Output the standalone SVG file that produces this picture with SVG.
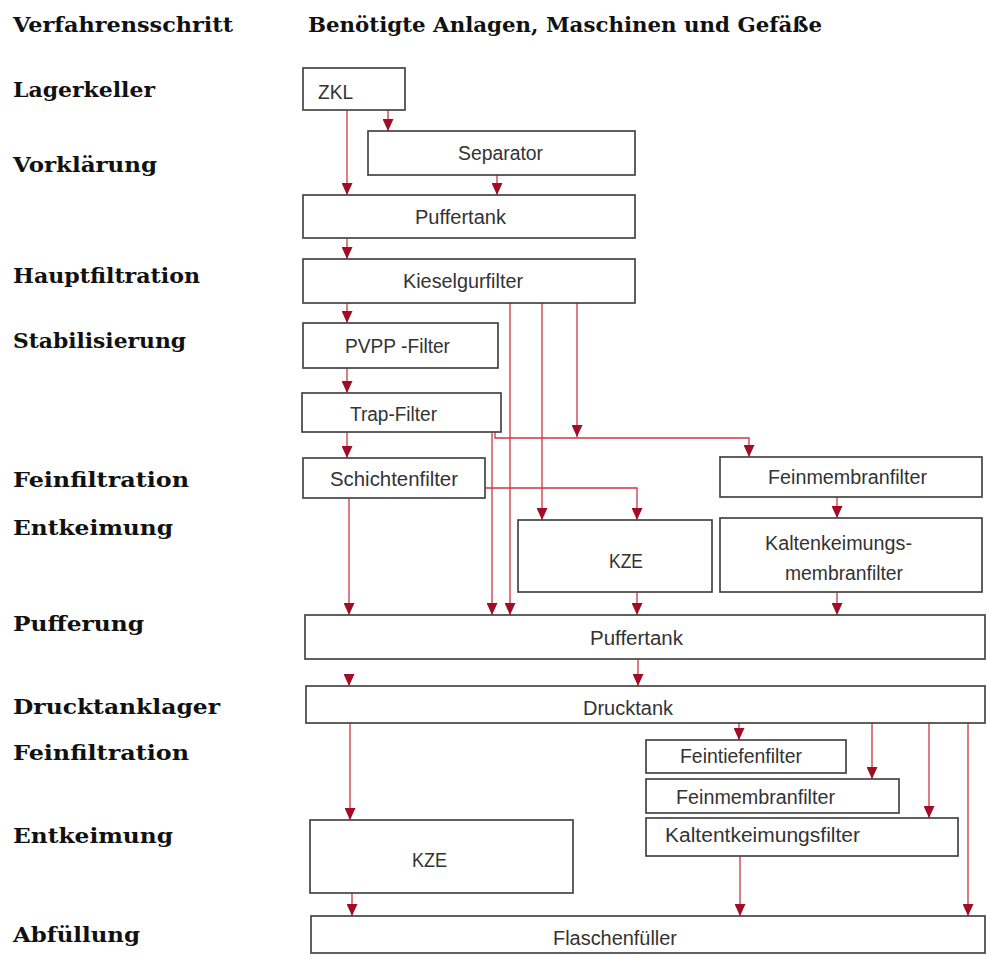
<svg xmlns="http://www.w3.org/2000/svg" width="987" height="956" viewBox="0 0 987 956">
  <style>
    .bg { fill: #ffffff; }
    .box { fill: #ffffff; stroke: #454545; stroke-width: 1.7; }
    .lbl { font-family: "Liberation Sans", Arial, sans-serif; font-size: 19.5px; fill: #333333; }
    .step { font-family: "DejaVu Serif", "Liberation Serif", serif; font-weight: bold; font-size: 20px; fill: #111111; }
    .flow { fill: none; stroke: #cf3444; stroke-width: 1.3; marker-end: url(#arrow); }
  </style>
  <defs>
    <marker id="arrow" viewBox="0 0 12 11" refX="12" refY="5.5" markerWidth="12" markerHeight="11" markerUnits="userSpaceOnUse" orient="auto">
      <path d="M0,0 L12,5.5 L0,11 z" fill="#a00d25"/>
    </marker>
  </defs>
  <rect class="bg" x="0" y="0" width="987" height="956"/>

  <!-- column headings -->
  <g id="headings">
    <text class="step" x="13" y="32" textLength="220" lengthAdjust="spacingAndGlyphs">Verfahrensschritt</text>
    <text class="step" x="308" y="32" textLength="514" lengthAdjust="spacingAndGlyphs">Benötigte Anlagen, Maschinen und Gefäße</text>
  </g>

  <!-- process steps (left column) -->
  <g id="steps">
    <text class="step" x="13" y="97" textLength="142" lengthAdjust="spacingAndGlyphs">Lagerkeller</text>
    <text class="step" x="13" y="172" textLength="144" lengthAdjust="spacingAndGlyphs">Vorklärung</text>
    <text class="step" x="13" y="283" textLength="187" lengthAdjust="spacingAndGlyphs">Hauptfiltration</text>
    <text class="step" x="13" y="348" textLength="173" lengthAdjust="spacingAndGlyphs">Stabilisierung</text>
    <text class="step" x="13" y="487" textLength="176" lengthAdjust="spacingAndGlyphs">Feinfiltration</text>
    <text class="step" x="13" y="535" textLength="160" lengthAdjust="spacingAndGlyphs">Entkeimung</text>
    <text class="step" x="13" y="631" textLength="131" lengthAdjust="spacingAndGlyphs">Pufferung</text>
    <text class="step" x="13" y="714" textLength="207" lengthAdjust="spacingAndGlyphs">Drucktanklager</text>
    <text class="step" x="13" y="760" textLength="176" lengthAdjust="spacingAndGlyphs">Feinfiltration</text>
    <text class="step" x="13" y="843" textLength="160" lengthAdjust="spacingAndGlyphs">Entkeimung</text>
    <text class="step" x="13" y="942" textLength="127" lengthAdjust="spacingAndGlyphs">Abfüllung</text>
  </g>

  <!-- connectors -->
  <g id="connectors">
    <path class="flow" d="M347,110 V195"/>
    <path class="flow" d="M388,110 V131"/>
    <path class="flow" d="M497,175 V195"/>
    <path class="flow" d="M347,238 V259"/>
    <path class="flow" d="M347,303 V323"/>
    <path class="flow" d="M347,368 V393"/>
    <path class="flow" d="M347,432 V458"/>
    <path class="flow" d="M349,498 V615"/>
    <path class="flow" d="M492,432 V615"/>
    <path class="flow" d="M510,303 V615"/>
    <path class="flow" d="M542,303 V520"/>
    <path class="flow" d="M577,303 V437"/>
    <path class="flow" d="M495,432 V438 H749 V457"/>
    <path class="flow" d="M485,488 H637 V520"/>
    <path class="flow" d="M837,497 V518"/>
    <path class="flow" d="M637,592 V615"/>
    <path class="flow" d="M837,592 V615"/>
    <path class="flow" d="M638,659 V686"/>
    <path class="flow" d="M349,675 V686"/>
    <path class="flow" d="M350,723 V820"/>
    <path class="flow" d="M352,893 V916"/>
    <path class="flow" d="M739,723 V740"/>
    <path class="flow" d="M872,723 V779"/>
    <path class="flow" d="M929,723 V818"/>
    <path class="flow" d="M968,723 V916"/>
    <path class="flow" d="M740,856 V916"/>
  </g>

  <!-- equipment -->
  <g id="zkl">
    <rect class="box" x="303" y="68" width="102" height="42"/>
    <text class="lbl" x="318" y="99" textLength="35" lengthAdjust="spacingAndGlyphs">ZKL</text>
  </g>
  <g id="separator">
    <rect class="box" x="368" y="131" width="267" height="44"/>
    <text class="lbl" x="458" y="160" textLength="85" lengthAdjust="spacingAndGlyphs">Separator</text>
  </g>
  <g id="puffertank-1">
    <rect class="box" x="303" y="195" width="332" height="43"/>
    <text class="lbl" x="415" y="224" textLength="91" lengthAdjust="spacingAndGlyphs">Puffertank</text>
  </g>
  <g id="kieselgurfilter">
    <rect class="box" x="303" y="259" width="332" height="44"/>
    <text class="lbl" x="403" y="288" textLength="120" lengthAdjust="spacingAndGlyphs">Kieselgurfilter</text>
  </g>
  <g id="pvpp-filter">
    <rect class="box" x="303" y="323" width="195" height="45"/>
    <text class="lbl" x="345" y="353" textLength="105" lengthAdjust="spacingAndGlyphs">PVPP -Filter</text>
  </g>
  <g id="trap-filter">
    <rect class="box" x="302" y="393" width="199" height="39"/>
    <text class="lbl" x="350" y="421" textLength="87" lengthAdjust="spacingAndGlyphs">Trap-Filter</text>
  </g>
  <g id="schichtenfilter">
    <rect class="box" x="303" y="458" width="182" height="40"/>
    <text class="lbl" x="330" y="486" textLength="128" lengthAdjust="spacingAndGlyphs">Schichtenfilter</text>
  </g>
  <g id="feinmembranfilter-1">
    <rect class="box" x="720" y="457" width="262" height="40"/>
    <text class="lbl" x="768" y="484" textLength="159" lengthAdjust="spacingAndGlyphs">Feinmembranfilter</text>
  </g>
  <g id="kze-1">
    <rect class="box" x="518" y="520" width="194" height="72"/>
    <text class="lbl" x="609" y="568" textLength="34" lengthAdjust="spacingAndGlyphs">KZE</text>
  </g>
  <g id="kaltentkeimungsmembranfilter">
    <rect class="box" x="720" y="518" width="262" height="74"/>
    <text class="lbl" x="765" y="550" textLength="147" lengthAdjust="spacingAndGlyphs">Kaltenkeimungs-</text>
    <text class="lbl" x="785" y="580" textLength="118" lengthAdjust="spacingAndGlyphs">membranfilter</text>
  </g>
  <g id="puffertank-2">
    <rect class="box" x="305" y="615" width="680" height="44"/>
    <text class="lbl" x="590" y="645" textLength="93" lengthAdjust="spacingAndGlyphs">Puffertank</text>
  </g>
  <g id="drucktank">
    <rect class="box" x="306" y="686" width="679" height="37"/>
    <text class="lbl" x="583" y="715" textLength="90" lengthAdjust="spacingAndGlyphs">Drucktank</text>
  </g>
  <g id="feintiefenfilter">
    <rect class="box" x="646" y="740" width="200" height="33"/>
    <text class="lbl" x="680" y="763" textLength="122" lengthAdjust="spacingAndGlyphs">Feintiefenfilter</text>
  </g>
  <g id="feinmembranfilter-2">
    <rect class="box" x="646" y="779" width="253" height="34"/>
    <text class="lbl" x="676" y="804" textLength="159" lengthAdjust="spacingAndGlyphs">Feinmembranfilter</text>
  </g>
  <g id="kaltentkeimungsfilter">
    <rect class="box" x="646" y="818" width="312" height="38"/>
    <text class="lbl" x="665" y="842" textLength="195" lengthAdjust="spacingAndGlyphs">Kaltentkeimungsfilter</text>
  </g>
  <g id="kze-2">
    <rect class="box" x="310" y="820" width="263" height="73"/>
    <text class="lbl" x="412" y="867" textLength="35" lengthAdjust="spacingAndGlyphs">KZE</text>
  </g>
  <g id="flaschenfueller">
    <rect class="box" x="311" y="916" width="674" height="37"/>
    <text class="lbl" x="553" y="945" textLength="124" lengthAdjust="spacingAndGlyphs">Flaschenfüller</text>
  </g>
</svg>
